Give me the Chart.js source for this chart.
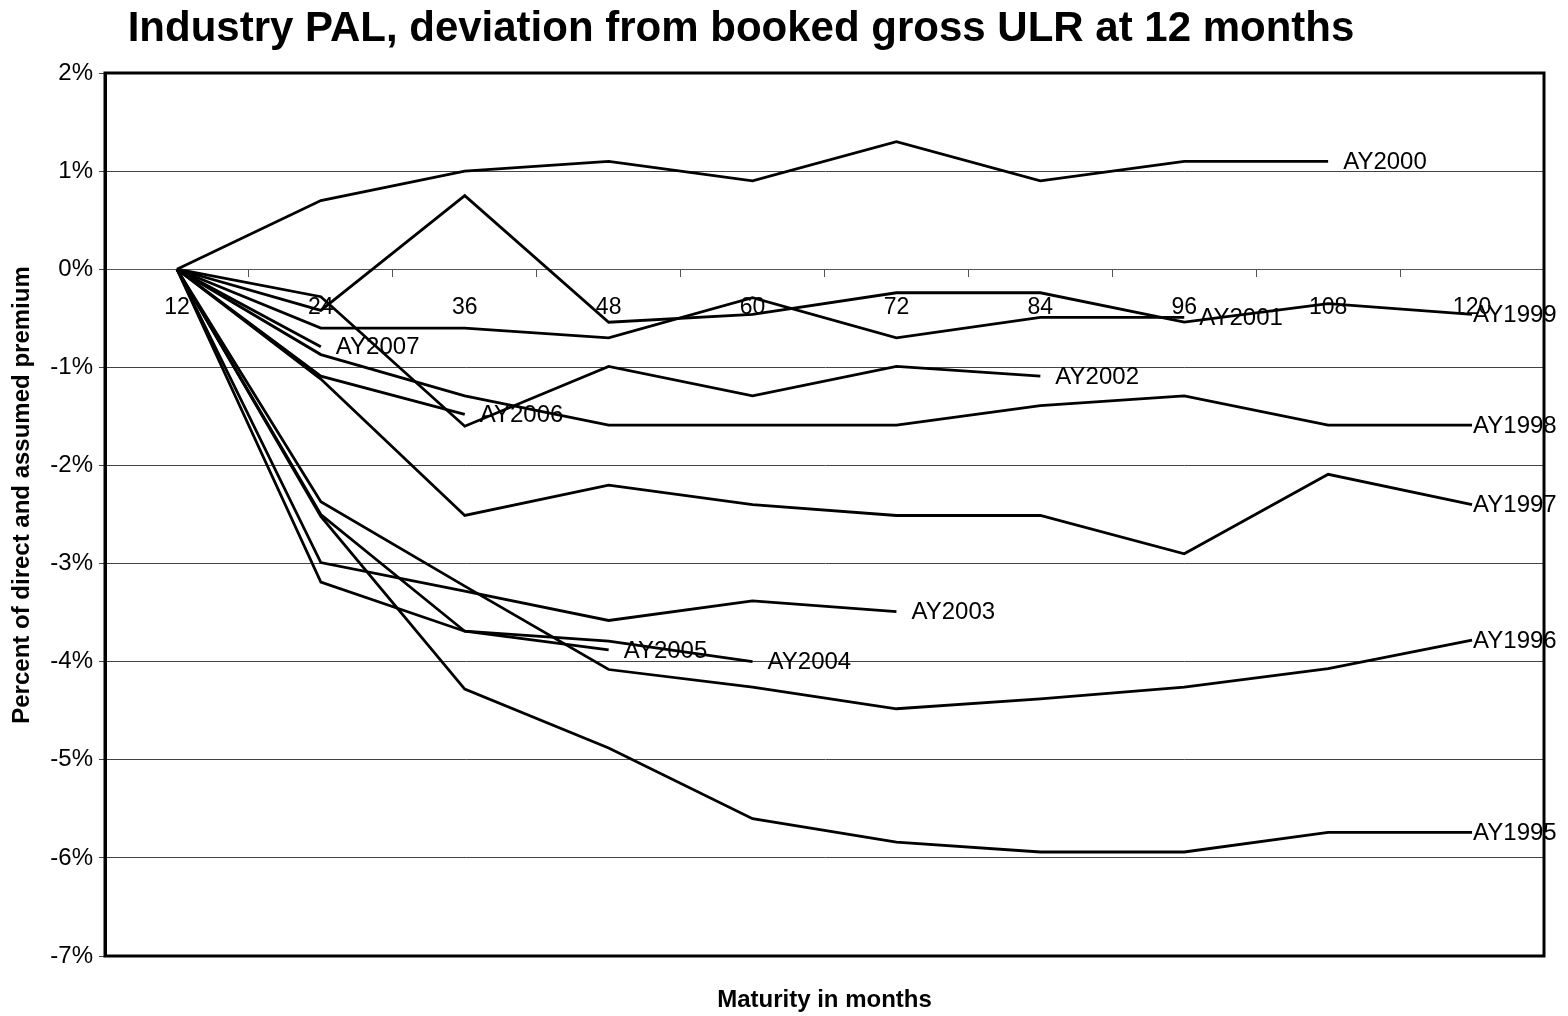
<!DOCTYPE html>
<html>
<head>
<meta charset="utf-8">
<script src="https://cdn.jsdelivr.net/npm/chart.js@4"></script>
<style>
  html, body { margin: 0; padding: 0; background: #fff; }
  #wrap { width: 1568px; height: 1016px; }
</style>
</head>
<body>
<div id="wrap"><canvas id="palChart"></canvas></div>
<script>
// Maturity (months) on the x axis
const maturities = ['12', '24', '36', '48', '60', '72', '84', '96', '108', '120'];
const yTicks = [2, 1, 0, -1, -2, -3, -4, -5, -6, -7];

// Deviation from booked gross ULR at 12 months, % of premium
const ay1995 = [0, -2.52, -4.28, -4.88, -5.60, -5.84, -5.94, -5.94, -5.74, -5.74];
const ay1996 = [0, -2.37, -3.23, -4.08, -4.26, -4.48, -4.38, -4.26, -4.07, -3.78];
const ay1997 = [0, -1.12, -2.51, -2.20, -2.40, -2.51, -2.51, -2.90, -2.09, -2.40];
const ay1998 = [0, -0.87, -1.29, -1.59, -1.59, -1.59, -1.39, -1.29, -1.59, -1.59];
const ay1999 = [0, -0.42, 0.75, -0.54, -0.46, -0.24, -0.24, -0.54, -0.35, -0.46];
const ay2000 = [0, 0.70, 1.00, 1.10, 0.90, 1.30, 0.90, 1.10, 1.10];
const ay2001 = [0, -0.60, -0.60, -0.70, -0.29, -0.70, -0.49, -0.49];
const ay2002 = [0, -0.28, -1.60, -0.99, -1.29, -0.99, -1.09];
const ay2003 = [0, -2.99, -3.28, -3.58, -3.38, -3.49];
const ay2004 = [0, -2.50, -3.69, -3.79, -4.00];
const ay2005 = [0, -3.19, -3.69, -3.88];
const ay2006 = [0, -1.09, -1.48];
const ay2007 = [0, -0.79];

const seriesNames = ['AY1995', 'AY1996', 'AY1997', 'AY1998', 'AY1999', 'AY2000', 'AY2001',
                     'AY2002', 'AY2003', 'AY2004', 'AY2005', 'AY2006', 'AY2007'];
const seriesData = [ay1995, ay1996, ay1997, ay1998, ay1999, ay2000, ay2001,
                    ay2002, ay2003, ay2004, ay2005, ay2006, ay2007];

const FONT = "'Liberation Sans', Arial, sans-serif";

Chart.defaults.font.family = FONT;
Chart.defaults.color = '#000';

// etiquetas al final de cada linea, titulos y marco
const decorPlugin = {
    id: 'decor',
    afterDatasetsDraw(chart) {
        const ctx = chart.ctx;
        const area = chart.chartArea;
        const lastIdx = chart.data.labels.length - 1;
        ctx.save();
        ctx.font = '24px ' + FONT;
        ctx.fillStyle = '#000';
        ctx.textAlign = 'left';
        ctx.textBaseline = 'middle';
        chart.data.datasets.forEach((ds, i) => {
            const pts = chart.getDatasetMeta(i).data;
            const n = ds.data.length - 1;
            const last = pts[n];
            const x = n === lastIdx ? last.x + 1 : last.x + 15;
            ctx.fillText(ds.label, x, last.y + 1);
        });

        // marco del area
        ctx.strokeStyle = '#000';
        ctx.lineWidth = 3;
        ctx.strokeRect(area.left, area.top, area.right - area.left, area.bottom - area.top);

        // titulo
        ctx.font = 'bold 42px ' + FONT;
        ctx.textAlign = 'center';
        ctx.fillText('Industry PAL, deviation from booked gross ULR at 12 months', 741, 29);

        // titulo eje x
        ctx.font = 'bold 24px ' + FONT;
        ctx.fillText('Maturity in months', (area.left + area.right) / 2, 1000);

        // titulo eje y
        ctx.translate(22, 495);
        ctx.rotate(-Math.PI / 2);
        ctx.fillText('Percent of direct and assumed premium', 0, 0);
        ctx.restore();
    }
};

const ctx = document.getElementById('palChart').getContext('2d');
new Chart(ctx, {
    type: 'line',
    data: {
        labels: maturities,
        datasets: seriesData.map((d, i) => ({
            label: seriesNames[i],
            data: d,
            borderColor: '#000',
            borderWidth: 2.8,
            pointRadius: 0,
            fill: false,
            tension: 0
        }))
    },
    options: {
        responsive: true,
        maintainAspectRatio: false,
        animation: false,
        layout: { padding: { top: 73, right: 24, bottom: 60, left: 0 } },
        plugins: {
            legend: { display: false },
            tooltip: { enabled: false },
            title: { display: false }
        },
        scales: {
            x: {
                position: { y: 0 },
                offset: true,
                grid: {
                    offset: true,
                    drawOnChartArea: false,
                    drawTicks: true,
                    tickLength: 7,
                    color: '#555'
                },
                border: { color: '#555', width: 1 },
                ticks: {
                    padding: 18,
                    maxRotation: 0,
                    font: { size: 23 },
                    color: '#000'
                }
            },
            y: {
                min: -7,
                max: 2,
                afterFit(scale) { scale.width = 105; },
                afterBuildTicks(scale) {
                    scale.ticks = yTicks.map(v => ({ value: v }));
                },
                grid: {
                    color: '#444',
                    lineWidth: 1,
                    tickLength: 6
                },
                border: { color: '#000', width: 3 },
                ticks: {
                    padding: 6,
                    font: { size: 24 },
                    color: '#000',
                    callback: v => v + '%'
                }
            }
        }
    },
    plugins: [decorPlugin]
});
</script>
</body>
</html>
